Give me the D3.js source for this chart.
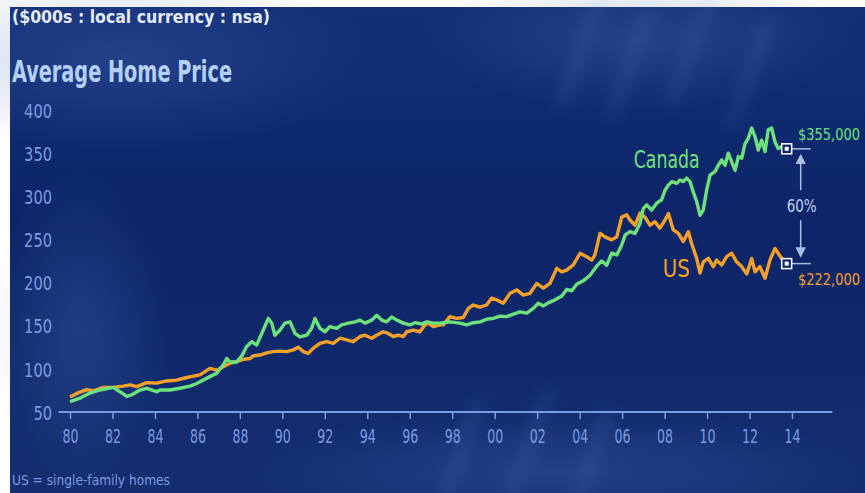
<!DOCTYPE html>
<html>
<head>
<meta charset="utf-8">
<script src="https://cdnjs.cloudflare.com/ajax/libs/d3/7.8.5/d3.min.js"></script>
<style>
body { margin: 0; background: #ffffff; }
svg { display: block; }
text { font-family: "Liberation Sans Narrow", "DejaVu Sans Condensed", "Roboto Condensed", "DejaVu Sans", sans-serif; }
</style>
</head>
<body>
<div id="chart"></div>
<script>
// values ($000s, local currency)
var canadaYears = [1980.00,1980.47,1980.94,1981.41,1982.04,1982.35,1982.67,1982.91,1983.30,1983.61,1984.08,1984.24,1984.71,1985.18,1985.65,1985.97,1986.28,1986.59,1986.91,1987.22,1987.38,1987.53,1987.85,1988.09,1988.32,1988.56,1988.79,1989.10,1989.34,1989.50,1989.65,1989.89,1990.12,1990.36,1990.60,1990.83,1991.15,1991.38,1991.54,1991.77,1992.01,1992.24,1992.56,1992.79,1993.11,1993.42,1993.66,1993.89,1994.21,1994.44,1994.68,1994.91,1995.15,1995.39,1995.70,1996.01,1996.25,1996.56,1996.80,1997.11,1997.42,1997.89,1998.37,1998.68,1998.99,1999.31,1999.62,1999.93,2000.25,2000.56,2000.88,2001.19,2001.51,2001.82,2002.05,2002.29,2002.52,2002.84,2003.16,2003.39,2003.63,2003.86,2004.17,2004.49,2004.80,2005.04,2005.27,2005.51,2005.75,2005.98,2006.14,2006.37,2006.61,2006.84,2007.00,2007.16,2007.39,2007.63,2007.86,2008.02,2008.18,2008.34,2008.57,2008.73,2008.88,2009.04,2009.20,2009.35,2009.51,2009.67,2009.82,2009.98,2010.14,2010.37,2010.53,2010.69,2010.85,2011.00,2011.16,2011.32,2011.47,2011.63,2011.79,2011.94,2012.10,2012.26,2012.41,2012.57,2012.73,2012.88,2013.04,2013.20,2013.35,2013.51,2013.75];
var canadaPrices = [62,66,72,75.5,78.5,73.5,68,70,75.5,77.5,73.5,75.5,75.5,77.5,80,83,87,91,95,104.5,112,108,108,115,126,131.5,127.5,145,158.5,153,139,145,153,154.5,141,137,139,147,158.5,147,143,149,147,151,153,154.5,156.5,153,156.5,162,156.5,154.5,160,156.5,153,151,153.5,152,154.5,153,153,154.5,153,151,153.5,154.5,157.5,158.5,161,160.5,163.5,166,164.5,170,176,173,176.5,180,184.5,192,190.5,198,202,208.5,219,225,220,234,232,243.5,255,259,257,268.5,286,290,284,292,296,307,313,317,315,319,317,321,317,305,294,278,284,307,324.5,328.5,336,342,336,350,340,330,346,344,361,367,379,369,353.5,365,352,377,379,363,355.5,357.5,355];

var usYears = [1980.00,1980.32,1980.79,1981.10,1981.57,1982.04,1982.51,1982.83,1983.14,1983.61,1984.08,1984.55,1985.02,1985.50,1985.81,1986.12,1986.59,1986.91,1987.22,1987.53,1987.85,1988.16,1988.48,1988.63,1988.95,1989.26,1989.57,1989.89,1990.20,1990.52,1990.75,1990.99,1991.22,1991.46,1991.77,1992.09,1992.40,1992.71,1993.03,1993.34,1993.66,1993.89,1994.21,1994.44,1994.75,1994.99,1995.22,1995.46,1995.70,1995.86,1996.17,1996.48,1996.72,1996.87,1997.11,1997.42,1997.58,1997.89,1998.21,1998.52,1998.76,1998.99,1999.31,1999.62,1999.86,2000.09,2000.40,2000.72,2001.04,2001.35,2001.66,2001.98,2002.29,2002.60,2002.92,2003.16,2003.39,2003.70,2004.02,2004.33,2004.57,2004.72,2004.96,2005.19,2005.51,2005.75,2005.98,2006.22,2006.37,2006.61,2006.84,2007.07,2007.31,2007.55,2007.78,2008.02,2008.18,2008.41,2008.65,2008.88,2009.12,2009.27,2009.51,2009.67,2009.82,2010.06,2010.29,2010.45,2010.69,2010.92,2011.16,2011.39,2011.63,2011.87,2012.10,2012.26,2012.49,2012.73,2012.96,2013.20,2013.35,2013.51,2013.75];
var usPrices = [67.5,71.5,76,74.5,78.5,78.5,80,81.5,79.5,84,83.5,86,87,90,91.5,93,100.5,98.5,102.5,106.5,108.5,111,112,115,116,118.5,120,120.5,120,122,125,120,118,124,129.5,131.5,129.5,135.5,133.5,131.5,137.5,139,135.5,139,143,141,137.5,139,137.5,143,145,143,151,153,149,151,151,160.5,158.5,159.5,170,174,171.5,174,182,180,176,187.5,191.5,185.5,187.5,199,193.5,199,216.5,212.5,214.5,220.5,234,230,226,232,257,253,249.5,253,276,278.5,272.5,266.5,280.5,276,266.5,270.5,263,272.5,280,261,257,247.5,259,245.5,228,211,224,228,218.5,226,220.5,230,234,224,218.5,210,228,212.5,218.5,205,226,239.5,234,228,222];

var yTicks = [50, 100, 150, 200, 250, 300, 350, 400];
var xTicks = [1980, 1982, 1984, 1986, 1988, 1990, 1992, 1994, 1996, 1998, 2000, 2002, 2004, 2006, 2008, 2010, 2012, 2014];
var seriesNames = ["Canada", "US"];
var endLabels = ["$355,000", "$222,000"];
var gapLabel = "60%";

var width = 865, height = 493;
var green = "#6de27c", orange = "#f5a02a", axisBlue = "#7b9be0";

var x = d3.scaleLinear().domain([1980, 2014]).range([70, 792]);
var y = d3.scaleLinear().domain([50, 400]).range([412, 110]);

var svg = d3.select("#chart").append("svg")
    .attr("width", width)
    .attr("height", height);

// background panel
var defs = svg.append("defs");
var bg = defs.append("linearGradient").attr("id", "bg")
    .attr("x1", 0).attr("y1", 0).attr("x2", 0).attr("y2", 1);
bg.append("stop").attr("offset", "0%").attr("stop-color", "#132f78");
bg.append("stop").attr("offset", "45%").attr("stop-color", "#0c2567");
bg.append("stop").attr("offset", "100%").attr("stop-color", "#142e70");

var glow = defs.append("radialGradient").attr("id", "glow");
glow.append("stop").attr("offset", "0%").attr("stop-color", "#4a6cb8").attr("stop-opacity", 0.3);
glow.append("stop").attr("offset", "100%").attr("stop-color", "#4a6cb8").attr("stop-opacity", 0);

defs.append("filter").attr("id", "blur").append("feGaussianBlur").attr("stdDeviation", 7);

defs.append("marker").attr("id", "arrow")
    .attr("viewBox", "0 0 10 10").attr("refX", 8).attr("refY", 5)
    .attr("markerWidth", 7).attr("markerHeight", 7).attr("orient", "auto-start-reverse")
    .append("path").attr("d", "M0,0L10,5L0,10Z").attr("fill", "#a9bde3");

svg.append("rect")
    .attr("x", 10).attr("y", 7)
    .attr("width", width - 10).attr("height", height - 7)
    .attr("fill", "url(#bg)");

// soft highlights and rain streaks
var blobs = svg.append("g");
blobs.append("ellipse").attr("cx", 120).attr("cy", 60).attr("rx", 260).attr("ry", 90).attr("fill", "url(#glow)");
blobs.append("ellipse").attr("cx", 640).attr("cy", 40).attr("rx", 220).attr("ry", 70).attr("fill", "url(#glow)");
blobs.append("ellipse").attr("cx", 560).attr("cy", 470).attr("rx", 320).attr("ry", 60).attr("fill", "url(#glow)");
blobs.append("ellipse").attr("cx", 80).attr("cy", 330).attr("rx", 90).attr("ry", 160).attr("fill", "url(#glow)");

var streaks = svg.append("g").attr("filter", "url(#blur)").attr("opacity", 0.12);
[[590, 0], [640, 10], [700, 0], [760, 20], [470, 400], [540, 390], [600, 410]].forEach(function(p) {
    streaks.append("path")
        .attr("d", "M" + p[0] + "," + p[1] + "l18,-2l-40,110l-14,0z")
        .attr("fill", "#6d8fd8");
});

// titles
svg.append("text")
    .attr("x", 12).attr("y", 23)
    .attr("fill", "#e4ebf8")
    .style("font-size", "18px")
    .style("font-weight", 600)
    .attr("textLength", 258).attr("lengthAdjust", "spacingAndGlyphs")
    .text("($000s : local currency : nsa)");

svg.append("text")
    .attr("x", 12).attr("y", 82)
    .attr("fill", "#b4d0f6")
    .style("font-size", "30px")
    .style("font-weight", 600)
    .attr("textLength", 220).attr("lengthAdjust", "spacingAndGlyphs")
    .text("Average Home Price");

// y axis labels
var yAxis = svg.append("g")
    .attr("transform", "translate(52,0)")
    .call(d3.axisLeft(y).tickValues(yTicks).tickSize(0).tickPadding(0));
yAxis.select(".domain").remove();
yAxis.selectAll("text")
    .attr("fill", axisBlue)
    .attr("dy", "0.36em")
    .style("font-size", "20px")
    .attr("textLength", function(d) { return String(d).length * 9.3; })
    .attr("lengthAdjust", "spacingAndGlyphs");

// x axis
var xAxis = svg.append("g")
    .attr("transform", "translate(0," + y(50) + ")")
    .call(d3.axisBottom(x).tickValues(xTicks).tickSize(7).tickPadding(10)
        .tickFormat(function(d) { return String(d).slice(2); }));
xAxis.select(".domain").remove();
xAxis.selectAll("line").attr("stroke", axisBlue).attr("stroke-width", 1.5);
xAxis.selectAll("text")
    .attr("fill", axisBlue)
    .style("font-size", "20px")
    .attr("textLength", 16)
    .attr("lengthAdjust", "spacingAndGlyphs");
svg.append("line")
    .attr("x1", x(1979.45)).attr("x2", x(2015.9))
    .attr("y1", y(50)).attr("y2", y(50))
    .attr("stroke", axisBlue).attr("stroke-width", 2);

// lines
var line = d3.line()
    .x(function(d) { return x(d[0]); })
    .y(function(d) { return y(d[1]); });

var usData = d3.zip(usYears, usPrices);
var canadaData = d3.zip(canadaYears, canadaPrices);

svg.append("path")
    .datum(usData)
    .attr("fill", "none")
    .attr("stroke", orange)
    .attr("stroke-width", 3.4)
    .attr("stroke-linejoin", "round")
    .attr("d", line);

svg.append("path")
    .datum(canadaData)
    .attr("fill", "none")
    .attr("stroke", green)
    .attr("stroke-width", 3.4)
    .attr("stroke-linejoin", "round")
    .attr("d", line);

// series labels
svg.append("text")
    .attr("x", x(2008.1)).attr("y", y(333))
    .attr("text-anchor", "middle")
    .attr("fill", green)
    .style("font-size", "25px")
    .attr("textLength", 66).attr("lengthAdjust", "spacingAndGlyphs")
    .text(seriesNames[0]);

svg.append("text")
    .attr("x", x(2008.55)).attr("y", y(207))
    .attr("text-anchor", "middle")
    .attr("fill", orange)
    .style("font-size", "25px")
    .attr("textLength", 27).attr("lengthAdjust", "spacingAndGlyphs")
    .text(seriesNames[1]);

// end markers and value labels
var ends = [canadaData[canadaData.length - 1], usData[usData.length - 1]];
var endColors = [green, orange];

ends.forEach(function(d, i) {
    var cx = x(d[0]), cy = y(d[1]);
    svg.append("line")
        .attr("x1", cx + 5).attr("x2", cx + 24)
        .attr("y1", cy).attr("y2", cy)
        .attr("stroke", "#a9bde3").attr("stroke-width", 1.5);
    svg.append("rect")
        .attr("x", cx - 5).attr("y", cy - 5)
        .attr("width", 10).attr("height", 10)
        .attr("fill", "#0f2a6c")
        .attr("stroke", "#ffffff").attr("stroke-width", 1.5);
    svg.append("rect")
        .attr("x", cx - 2).attr("y", cy - 2)
        .attr("width", 4).attr("height", 4)
        .attr("fill", "#ffffff");
    svg.append("text")
        .attr("x", 860)
        .attr("y", i == 0 ? cy - 9 : cy + 21)
        .attr("text-anchor", "end")
        .attr("fill", endColors[i])
        .style("font-size", "15px")
        .attr("textLength", 62).attr("lengthAdjust", "spacingAndGlyphs")
        .text(endLabels[i]);
});

// gap arrows
var ax = x(ends[0][0]) + 14;
var mid = (y(ends[0][1]) + y(ends[1][1])) / 2;
svg.append("line")
    .attr("x1", ax).attr("x2", ax)
    .attr("y1", mid - 16).attr("y2", y(ends[0][1]) + 7)
    .attr("stroke", "#a9bde3").attr("stroke-width", 1.5)
    .attr("marker-end", "url(#arrow)");
svg.append("line")
    .attr("x1", ax).attr("x2", ax)
    .attr("y1", mid + 14).attr("y2", y(ends[1][1]) - 8)
    .attr("stroke", "#a9bde3").attr("stroke-width", 1.5)
    .attr("marker-end", "url(#arrow)");
svg.append("text")
    .attr("x", ax + 1).attr("y", mid + 6)
    .attr("text-anchor", "middle")
    .attr("fill", "#c2d2ee")
    .style("font-size", "17px")
    .attr("textLength", 30).attr("lengthAdjust", "spacingAndGlyphs")
    .text(gapLabel);

// footnote
svg.append("text")
    .attr("x", 12).attr("y", 485)
    .attr("fill", axisBlue)
    .style("font-size", "14px")
    .attr("textLength", 158).attr("lengthAdjust", "spacingAndGlyphs")
    .text("US = single-family homes");
</script>
</body>
</html>
